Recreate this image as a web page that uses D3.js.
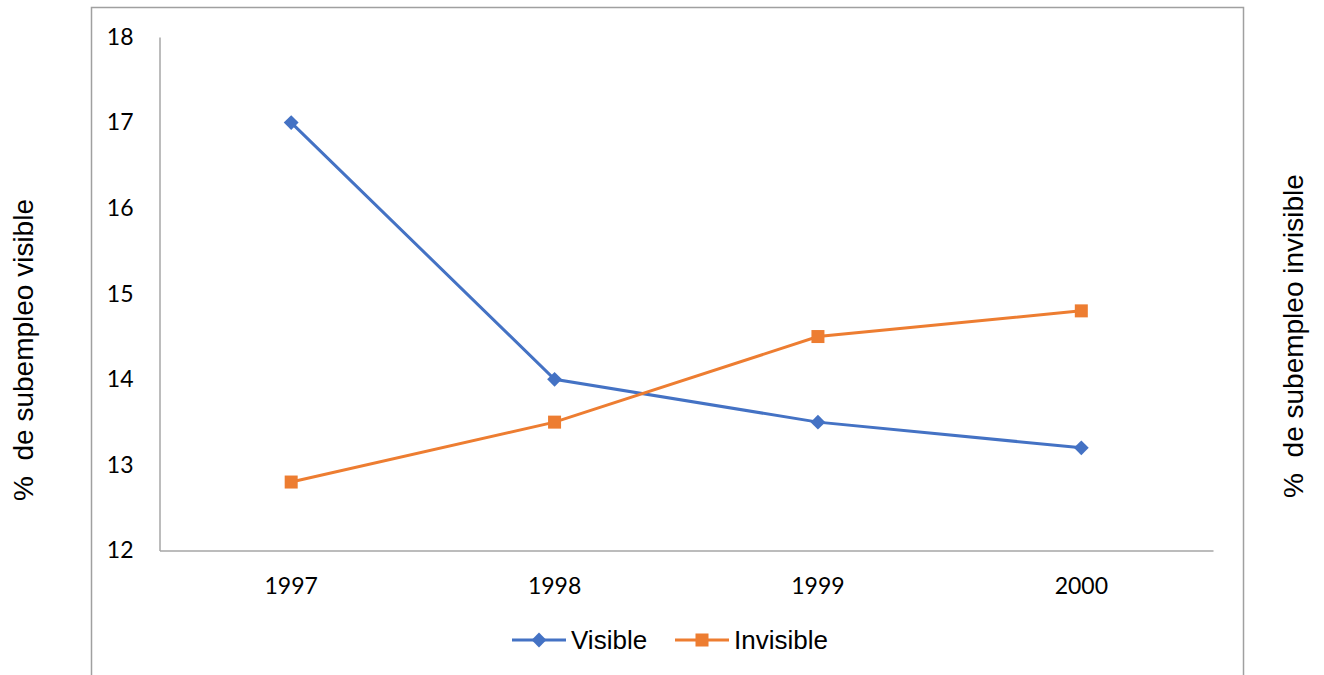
<!DOCTYPE html>
<html>
<head>
<meta charset="utf-8">
<script src="https://cdn.jsdelivr.net/npm/d3@7"></script>
<style>
  html, body { margin: 0; padding: 0; background: #fff; }
  svg { display: block; }
</style>
</head>
<body>
<svg id="chart" width="1324" height="675"></svg>
<script>
// Survey years and subemployment rates (%)
const years = ["1997", "1998", "1999", "2000"];
const visible = [17, 14, 13.5, 13.2];
const invisible = [12.8, 13.5, 14.5, 14.8];
const yTicks = [12, 13, 14, 15, 16, 17, 18];
const seriesNames = ["Visible", "Invisible"];
const leftTitle = "%  de subempleo visible";
const rightTitle = "%  de subempleo invisible";

const blue = "#4472C4", orange = "#ED7D31", axisGray = "#a6a6a6";

const svg = d3.select("#chart");

// outer chart frame
svg.append("rect")
  .attr("x", 91.5).attr("y", 7.5)
  .attr("width", 1152).attr("height", 700)
  .attr("fill", "none").attr("stroke", "#a0a0a0").attr("stroke-width", 1.5);

const plot = { left: 159.5, right: 1213, top: 37, bottom: 550.5 };

const x = d3.scaleBand().domain(years).range([plot.left, plot.right]);
const cx = d => x(d) + x.bandwidth() / 2;
const y = d3.scaleLinear().domain([12, 18]).range([plot.bottom, plot.top]);

const tickFont = "Lato, 'Open Sans', sans-serif";

// left value axis
const yAxis = svg.append("g")
  .attr("transform", `translate(${plot.left},0)`)
  .call(d3.axisLeft(y).tickValues(yTicks).tickSize(0).tickPadding(26).tickFormat(d3.format("d")));
yAxis.select(".domain").attr("stroke", axisGray).attr("stroke-width", 1.5);
yAxis.selectAll("text")
  .attr("font-family", tickFont)
  .attr("font-size", 23).attr("fill", "#000");

// category axis
const xAxis = svg.append("g")
  .attr("transform", `translate(0,${plot.bottom})`)
  .call(d3.axisBottom(x).tickSize(0).tickPadding(27));
xAxis.select(".domain").attr("stroke", axisGray).attr("stroke-width", 1.5);
xAxis.selectAll("text")
  .attr("font-family", tickFont)
  .attr("font-size", 23).attr("fill", "#000");

const line = d3.line().x((d, i) => cx(years[i])).y(d => y(d));

// Visible series
svg.append("path").datum(visible)
  .attr("d", line).attr("fill", "none")
  .attr("stroke", blue).attr("stroke-width", 3);
svg.selectAll(".vmark").data(visible).enter().append("path")
  .attr("class", "vmark")
  .attr("transform", (d, i) => `translate(${cx(years[i])},${y(d)})`)
  .attr("d", d3.symbol(d3.symbolDiamond2, 140)())
  .attr("fill", blue);

// Invisible series
svg.append("path").datum(invisible)
  .attr("d", line).attr("fill", "none")
  .attr("stroke", orange).attr("stroke-width", 3);
svg.selectAll(".imark").data(invisible).enter().append("rect")
  .attr("class", "imark")
  .attr("x", (d, i) => cx(years[i]) - 6.5)
  .attr("y", d => y(d) - 6.5)
  .attr("width", 13).attr("height", 13)
  .attr("fill", orange);

// axis titles
const titleFont = "'Liberation Sans', Arial, sans-serif";
svg.append("text")
  .attr("transform", "translate(33,350) rotate(-90)")
  .attr("text-anchor", "middle")
  .attr("font-family", titleFont).attr("font-size", 28)
  .attr("xml:space", "preserve")
  .text(leftTitle);
svg.append("text")
  .attr("transform", "translate(1303,336) rotate(-90)")
  .attr("text-anchor", "middle")
  .attr("font-family", titleFont).attr("font-size", 28)
  .attr("xml:space", "preserve")
  .text(rightTitle);

// legend
const legendY = 640;
const legendItems = [
  { name: seriesNames[0], color: blue, x0: 512, shape: "diamond" },
  { name: seriesNames[1], color: orange, x0: 675, shape: "square" }
];
const lg = svg.append("g");
legendItems.forEach(it => {
  lg.append("line")
    .attr("x1", it.x0).attr("x2", it.x0 + 54)
    .attr("y1", legendY).attr("y2", legendY)
    .attr("stroke", it.color).attr("stroke-width", 3);
  if (it.shape === "diamond") {
    lg.append("path")
      .attr("transform", `translate(${it.x0 + 27},${legendY})`)
      .attr("d", d3.symbol(d3.symbolDiamond2, 140)())
      .attr("fill", it.color);
  } else {
    lg.append("rect")
      .attr("x", it.x0 + 27 - 6.5).attr("y", legendY - 6.5)
      .attr("width", 13).attr("height", 13)
      .attr("fill", it.color);
  }
  lg.append("text")
    .attr("x", it.x0 + 59).attr("y", legendY)
    .attr("dy", "0.35em")
    .attr("font-family", titleFont).attr("font-size", 26)
    .text(it.name);
});
</script>
</body>
</html>
